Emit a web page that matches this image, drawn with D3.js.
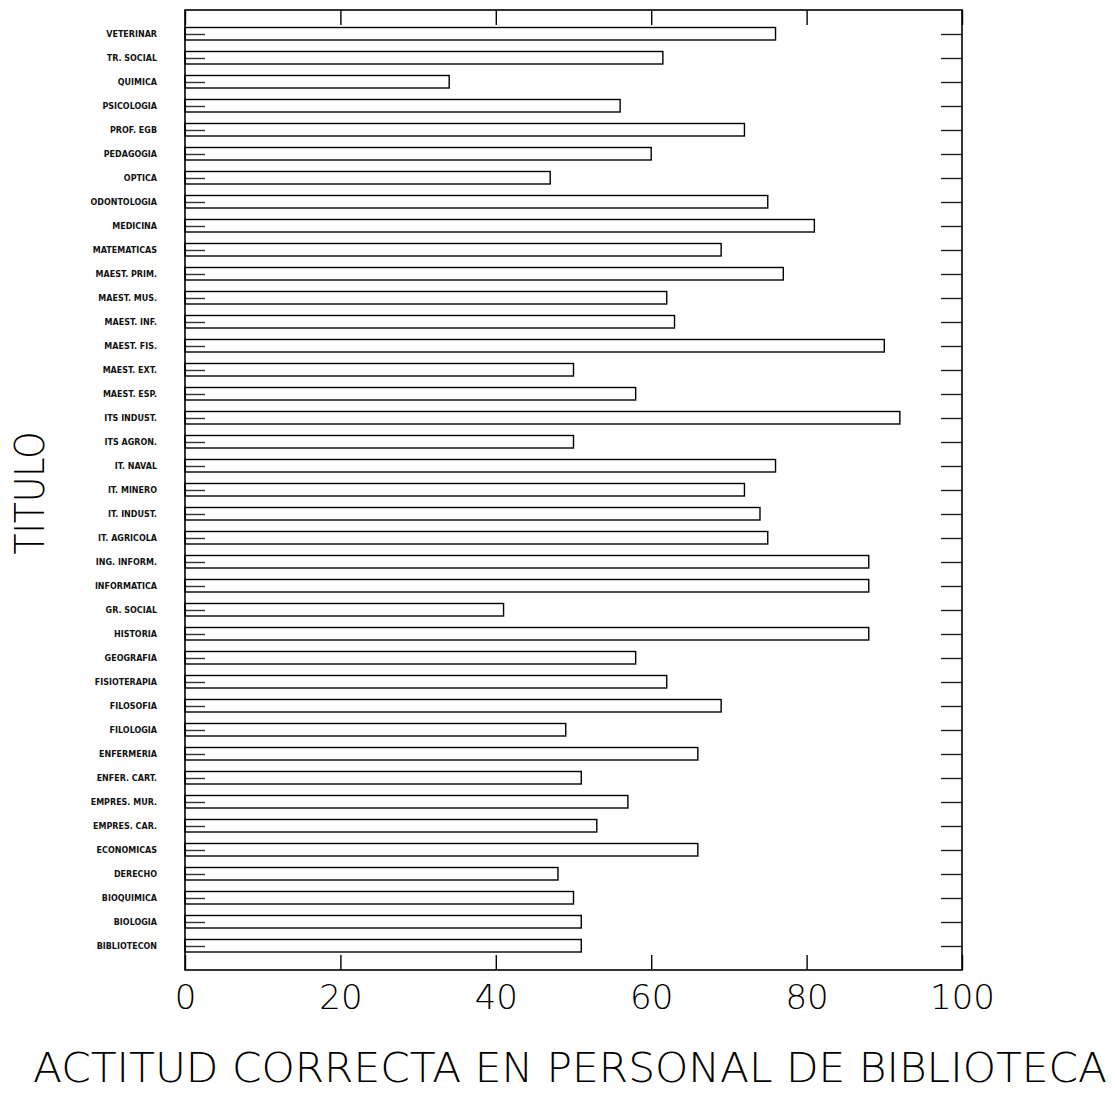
<!DOCTYPE html>
<html>
<head>
<meta charset="utf-8">
<script src="https://cdn.jsdelivr.net/npm/d3@7"></script>
<style>
  body { margin: 0; background: #fff; }
  .thin { font-family: "DejaVu Sans", sans-serif; font-weight: 200; fill: #000; }
  .cat text { font-family: "DejaVu Sans", sans-serif; font-weight: bold; font-size: 8px; fill: #111; }
</style>
</head>
<body>
<div id="chart"></div>
<script>
// categories, top to bottom
var titulos = ["VETERINAR", "TR. SOCIAL", "QUIMICA", "PSICOLOGIA", "PROF. EGB", "PEDAGOGIA",
  "OPTICA", "ODONTOLOGIA", "MEDICINA", "MATEMATICAS", "MAEST. PRIM.", "MAEST. MUS.",
  "MAEST. INF.", "MAEST. FIS.", "MAEST. EXT.", "MAEST. ESP.", "ITS INDUST.", "ITS AGRON.",
  "IT. NAVAL", "IT. MINERO", "IT. INDUST.", "IT. AGRICOLA", "ING. INFORM.", "INFORMATICA",
  "GR. SOCIAL", "HISTORIA", "GEOGRAFIA", "FISIOTERAPIA", "FILOSOFIA", "FILOLOGIA",
  "ENFERMERIA", "ENFER. CART.", "EMPRES. MUR.", "EMPRES. CAR.", "ECONOMICAS", "DERECHO",
  "BIOQUIMICA", "BIOLOGIA", "BIBLIOTECON"];
// % actitud correcta
var actitud = [76, 61.5, 34, 56, 72, 60,
  47, 75, 81, 69, 77, 62,
  63, 90, 50, 58, 92, 50,
  76, 72, 74, 75, 88, 88,
  41, 88, 58, 62, 69, 49,
  66, 51, 57, 53, 66, 48,
  50, 51, 51];
var xTicks = [0, 20, 40, 60, 80, 100];

(function() {
  var data = titulos.map(function(t, i) { return { name: t, value: actitud[i] }; });

  // plot frame (pixels)
  var frame = { left: 185, right: 962, top: 10, bottom: 970 };

  var svg = d3.select("#chart").append("svg")
    .attr("width", 1115).attr("height", 1098);

  var x = d3.scaleLinear().domain([0, 100]).range([frame.left, frame.right]);
  var y = d3.scalePoint().domain(titulos).range([frame.top, frame.bottom]).padding(1);

  // bars
  svg.append("g").selectAll("rect")
    .data(data)
    .enter().append("rect")
      .attr("x", x(0))
      .attr("y", function(d) { return y(d.name) - 6.5; })
      .attr("width", function(d) { return x(d.value) - x(0); })
      .attr("height", 12.5)
      .attr("fill", "#fff")
      .attr("stroke", "#000")
      .attr("stroke-width", 1.4);

  // left axis: small inward ticks + category names
  var gl = svg.append("g").attr("class", "cat")
    .attr("transform", "translate(" + frame.left + ",0)")
    .call(d3.axisLeft(y).tickSizeInner(-20).tickSizeOuter(0).tickPadding(28));
  gl.select(".domain").remove();
  gl.selectAll(".tick line").attr("stroke", "#333").attr("stroke-width", 1.4);

  // right axis ticks
  var gr = svg.append("g")
    .attr("transform", "translate(" + frame.right + ",0)")
    .call(d3.axisRight(y).tickSizeInner(-21).tickSizeOuter(0).tickFormat(""));
  gr.select(".domain").remove();
  gr.selectAll(".tick line").attr("stroke", "#222").attr("stroke-width", 1.4);

  // bottom axis
  var gb = svg.append("g")
    .attr("transform", "translate(0," + frame.bottom + ")")
    .call(d3.axisBottom(x).tickValues(xTicks).tickSizeInner(-15).tickSizeOuter(0).tickPadding(15));
  gb.select(".domain").remove();
  gb.selectAll(".tick line").attr("stroke", "#000").attr("stroke-width", 1.4);
  gb.selectAll(".tick text").attr("class", "thin").style("font-size", "34px");

  // top axis ticks
  var gt = svg.append("g")
    .attr("transform", "translate(0," + frame.top + ")")
    .call(d3.axisTop(x).tickValues(xTicks).tickSizeInner(-15).tickSizeOuter(0).tickFormat(""));
  gt.select(".domain").remove();
  gt.selectAll(".tick line").attr("stroke", "#000").attr("stroke-width", 1.4);

  // frame
  svg.append("rect")
    .attr("x", frame.left).attr("y", frame.top)
    .attr("width", frame.right - frame.left).attr("height", frame.bottom - frame.top)
    .attr("fill", "none").attr("stroke", "#000").attr("stroke-width", 1.6);

  // axis titles
  svg.append("text").attr("class", "thin")
    .attr("x", 570).attr("y", 1082)
    .attr("text-anchor", "middle")
    .attr("textLength", 1074).attr("lengthAdjust", "spacingAndGlyphs")
    .style("font-size", "40px")
    .text("ACTITUD CORRECTA EN PERSONAL DE BIBLIOTECA");

  svg.append("text").attr("class", "thin")
    .attr("transform", "translate(44,493) rotate(-90)")
    .attr("text-anchor", "middle")
    .attr("textLength", 123).attr("lengthAdjust", "spacingAndGlyphs")
    .style("font-size", "40px")
    .text("TITULO");
})();
</script>
</body>
</html>
